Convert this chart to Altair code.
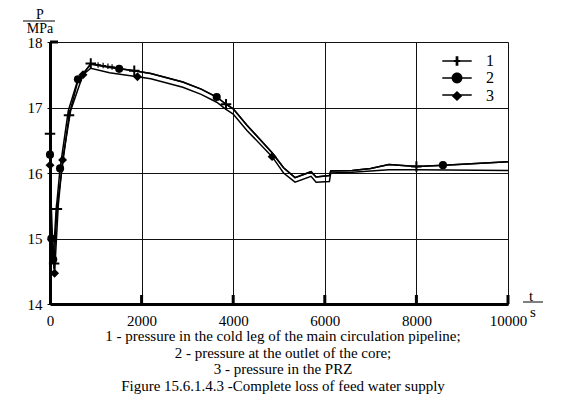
import altair as alt
import pandas as pd

SERIF = "Liberation Serif"

# ---- curve 1: pressure in the cold leg (upper line, "+" markers)
t1 = [0, 15, 40, 90, 150, 260, 415, 600, 890, 1300, 1840, 2200, 2900, 3300, 3640, 3843, 4000,
      4300, 4850, 5100, 5350, 5700, 5810, 6100, 6130, 6600, 7000, 7400, 8000, 8600, 10000]
p1 = [16.6, 16.0, 15.0, 14.62, 15.45, 16.05, 16.88, 17.38, 17.67, 17.62, 17.56, 17.52, 17.39, 17.28, 17.16, 17.05, 16.98,
      16.73, 16.31, 16.08, 15.93, 16.02, 15.94, 15.96, 16.03, 16.04, 16.07, 16.13, 16.10, 16.12, 16.17]

# ---- curve 2: pressure at the outlet of the core (upper line, circles)
t2 = [0, 30, 70, 130, 220, 400, 610, 890, 1300, 1510, 1840, 2200, 2900, 3300, 3640, 3843, 4000,
      4300, 4850, 5100, 5350, 5700, 5810, 6100, 6130, 6600, 7000, 7400, 8000, 8600, 10000]
p2 = [16.28, 15.0, 14.68, 15.4, 16.07, 16.95, 17.43, 17.66, 17.61, 17.59, 17.56, 17.52, 17.39, 17.28, 17.16, 17.05, 16.98,
      16.73, 16.31, 16.08, 15.93, 16.02, 15.94, 15.96, 16.03, 16.04, 16.07, 16.13, 16.10, 16.12, 16.17]

# ---- curve 3: pressure in the PRZ (lower line, diamonds)
t3 = [0, 40, 100, 180, 275, 450, 720, 890, 1300, 1910, 2200, 2900, 3300, 3640, 3843, 4000,
      4300, 4850, 5100, 5350, 5700, 5810, 6100, 6130, 6600, 7000, 7400, 8000, 10000]
p3 = [16.12, 15.2, 14.47, 15.5, 16.2, 16.95, 17.5, 17.6, 17.53, 17.47, 17.44, 17.31, 17.2, 17.08, 16.97, 16.9,
      16.65, 16.25, 16.0, 15.86, 15.95, 15.86, 15.87, 16.0, 16.01, 16.03, 16.05, 16.05, 16.04]

# ---- marker positions
m1_t = [0, 90, 150, 415, 890, 1840, 3843, 8000]
m1_p = [16.6, 14.62, 15.45, 16.88, 17.67, 17.56, 17.05, 16.10]
m1_small_t = [1050, 1160, 1265, 1355]
m1_small_p = [17.65, 17.64, 17.63, 17.62]
m2_t = [0, 30, 70, 220, 610, 1510, 3640, 8580]
m2_p = [16.28, 15.0, 14.68, 16.07, 17.43, 17.59, 17.16, 16.12]
m3_t = [0, 100, 275, 720, 1910, 4850]
m3_p = [16.12, 14.47, 16.2, 17.5, 17.47, 16.25]

series_labels = ["1", "2", "3"]
x_ticks = [0, 2000, 4000, 6000, 8000, 10000]
x_inner_ticks = [2000, 4000, 6000, 8000, 10000]
y_ticks = [14, 15, 16, 17, 18]
y_inner_ticks = [18]
y_title_top, y_title_bottom = "P", "MPa"
x_title_top, x_title_bottom = "t", "s"
captions = [
    "1 - pressure in the cold leg of the main circulation pipeline;",
    "2 - pressure at the outlet of the core;",
    "3 - pressure in the PRZ",
    "Figure 15.6.1.4.3 -Complete loss of feed water supply",
]

W, H = 458, 262

lines_df = pd.DataFrame({
    "t": t1 + t2 + t3,
    "p": p1 + p2 + p3,
    "series": ["1"] * len(t1) + ["2"] * len(t2) + ["3"] * len(t3),
})

xs = alt.Scale(domain=[0, 10000], nice=False, zero=False)
ys = alt.Scale(domain=[14, 18], nice=False, zero=False)

x_axis = alt.Axis(values=x_ticks, title=None, grid=True, ticks=False, labelPadding=9,
                  labelFont=SERIF, labelFontSize=15, labelColor="black", labelFlush=False,
                  labelOverlap=False, domainColor="black", domainWidth=3,
                  gridColor="#111", gridWidth=1, format="d")
y_axis = alt.Axis(values=y_ticks, title=None, grid=True, ticks=True, tickSize=3, tickColor="black",
                  tickWidth=1, labelPadding=5, labelFont=SERIF, labelFontSize=15, labelColor="black",
                  labelOverlap=False, domainColor="black", domainWidth=3,
                  gridColor="#111", gridWidth=1, format="d")


def X(field="t"):
    return alt.X(f"{field}:Q", scale=xs, axis=x_axis)


def Y(field="p"):
    return alt.Y(f"{field}:Q", scale=ys, axis=y_axis)


lines = alt.Chart(lines_df).mark_line(color="black", strokeWidth=1.5).encode(
    x=X(), y=Y(), detail="series:N", order="t:Q")

cross_path = "M-1,0H1M0,-1V1"
pts1 = alt.Chart(pd.DataFrame({"t": m1_t, "p": m1_p})).mark_point(
    shape=cross_path, filled=False, stroke="black", strokeWidth=2, size=110, opacity=1).encode(x=X(), y=Y())
pts1s = alt.Chart(pd.DataFrame({"t": m1_small_t, "p": m1_small_p})).mark_point(
    shape=cross_path, filled=False, stroke="black", strokeWidth=1.2, size=30, opacity=1).encode(x=X(), y=Y())
pts2 = alt.Chart(pd.DataFrame({"t": m2_t, "p": m2_p})).mark_point(
    shape="circle", filled=True, color="black", size=66, opacity=1).encode(x=X(), y=Y())
pts3 = alt.Chart(pd.DataFrame({"t": m3_t, "p": m3_p})).mark_point(
    shape="diamond", filled=True, color="black", size=80, opacity=1).encode(x=X(), y=Y())

inner_ticks = alt.Chart(pd.DataFrame({"t": x_inner_ticks})).mark_rule(
    color="black", strokeWidth=3).encode(x=X(), y=alt.value(H - 9), y2=alt.value(H))
inner_yticks = alt.Chart(pd.DataFrame({"p": y_inner_ticks})).mark_rule(
    color="black", strokeWidth=3).encode(y=Y(), x=alt.value(0), x2=alt.value(8))

# legend-only layers (no visible marks; legends drawn from the scale domains, overlaid)
k = 1.84
marker_paths = [
    "M-0.17,-0.6H0.17V0.6H-0.17ZM-0.4,-0.13H0.4V0.13H-0.4Z",
    "M0.68,0A0.68,0.68,0,1,1,-0.68,0A0.68,0.68,0,1,1,0.68,0Z",
    "M0,-0.63L0.66,0L0,0.63L-0.66,0Z",
]
seg_paths = [f"M-{k},0H{k}"] * 3
LEGX, LEGY = 398, 10
leg_df = pd.DataFrame({"series": series_labels, "series_line": series_labels,
                       "t": [0, 0, 0], "p": [14, 14, 14]})


def leg_common(**kw):
    return dict(orient="none", legendX=LEGX, legendY=LEGY, title=None, symbolSize=256,
                labelFont=SERIF, labelFontSize=16, labelOffset=20, rowPadding=-7, padding=0, **kw)


legend_markers = alt.Chart(leg_df).mark_point(filled=True, color="black", opacity=1).encode(
    x=X(), y=Y(),
    shape=alt.Shape("series:N", scale=alt.Scale(domain=series_labels, range=marker_paths),
                    legend=alt.Legend(**leg_common(labelColor="black", symbolFillColor="black",
                                                   symbolOpacity=1)))
).transform_filter(alt.datum.t < -1)

legend_lines = alt.Chart(leg_df).mark_point(filled=False, color="black", strokeWidth=1.5, opacity=1).encode(
    x=X(), y=Y(),
    shape=alt.Shape("series_line:N", scale=alt.Scale(domain=series_labels, range=seg_paths),
                    legend=alt.Legend(**leg_common(labelOpacity=0, symbolStrokeColor="black",
                                                   symbolStrokeWidth=1.5, symbolOpacity=1)))
).transform_filter(alt.datum.t < -1)


def text(txt, x, y, size=15, align="center"):
    return alt.Chart(pd.DataFrame({"s": [txt]})).mark_text(
        font=SERIF, fontSize=size, color="black", align=align, baseline="middle"
    ).encode(text="s:N", x=alt.value(x), y=alt.value(y))


def bar(x1, x2, y):
    return alt.Chart(pd.DataFrame({"a": [0]})).mark_rule(color="black", strokeWidth=1).encode(
        x=alt.value(x1), x2=alt.value(x2), y=alt.value(y))


deco = [
    text(y_title_top, -10, -27, size=14), bar(-27, 5, -21), text(y_title_bottom, -10, -13.5, size=14),
    text(x_title_top, 481, 254), bar(473, 493, 260), text(x_title_bottom, 483, 270),
]
cap_y = [294, 310.5, 326.5, 344]
caps = [text(c, 233, y, size=15) for c, y in zip(captions, cap_y)]

chart = alt.layer(lines, inner_ticks, inner_yticks, pts1, pts1s, pts2, pts3,
                  legend_lines, legend_markers, *deco, *caps).resolve_scale(
    shape="independent"
).properties(
    width=W, height=H,
    autosize=alt.AutoSizeParams(type="none"),
    padding={"left": 42, "top": 34, "right": 50, "bottom": 90},
).configure_view(stroke="black", strokeWidth=1).configure(background="white")

chart.save("out.html", embed_options={"renderer": "svg", "actions": False})
